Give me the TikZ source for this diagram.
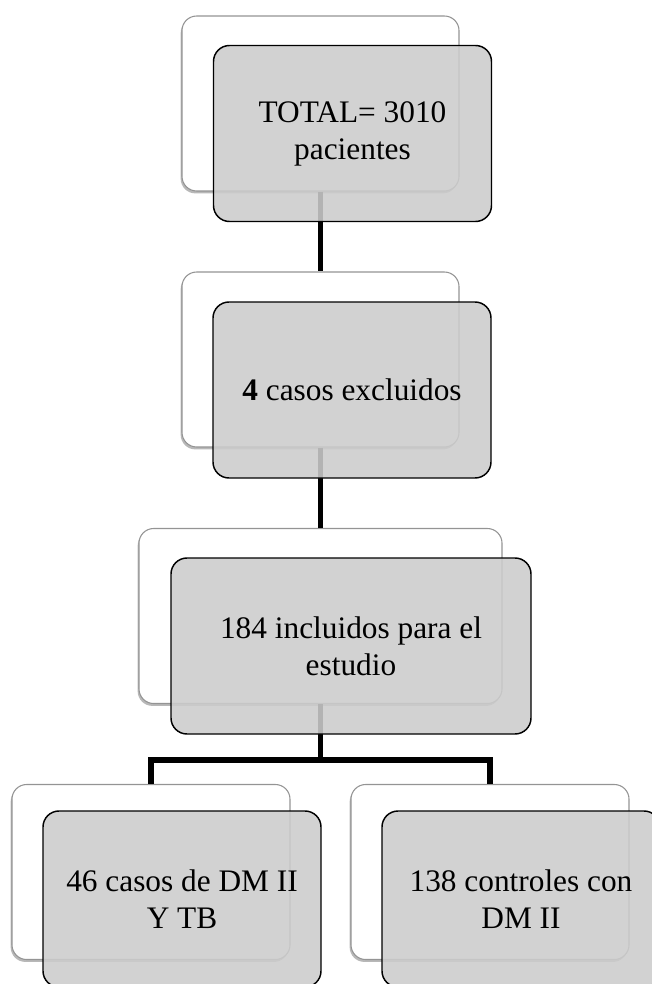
\documentclass[tikz,border=0pt]{standalone}
\usepackage{fontspec}
\setmainfont{Liberation Serif}[BoldFont={Liberation Serif Bold}]
\newfontfamily\diagfont{Liberation Serif}
\usetikzlibrary{shadows}
\definecolor{boxgray}{RGB}{204,204,204}
\begin{document}
\begin{tikzpicture}[x=0.75pt,y=-0.75pt,
  back/.style={draw=black!42, line width=0.8pt, fill=white, rounded corners=11pt,
    inner sep=0pt, minimum height=131.25pt,
    drop shadow={shadow xshift=-1pt, shadow yshift=-1.8pt, opacity=0.28, fill=black}},
  front/.style={draw=black, line width=1.1pt, fill=boxgray, fill opacity=0.88,
    text opacity=1, rounded corners=12pt, inner sep=0pt, minimum height=132pt,
    align=center, font=\diagfont\fontsize{23.5}{27.7}\selectfont},
  link/.style={line width=3.8pt}]
\useasboundingbox (0,0) rectangle (651,984);

% back (white) boxes
\node[back, minimum width=207.75pt] (w1) at (320.5,103.5) {};
\node[back, minimum width=207.75pt] (w2) at (320.5,359.5) {};
\node[back, minimum width=272.25pt] (w3) at (320.5,616) {};
\node[back, minimum width=208.5pt] (w4) at (151,872) {};
\node[back, minimum width=208.5pt] (w5) at (490,872) {};

% connectors
\coordinate (bar) at (320.5,760);
\draw[link] (w1.south) -- (w2.north);
\draw[link] (w2.south) -- (w3.north);
\draw[link] (w3.south) -- (bar);
\draw[link, line join=miter] (w4.north) |- (bar) -| (w5.north);

% front (gray) boxes
\node[front, minimum width=208.5pt] (g1) at (352.5,133.5) {TOTAL= 3010\\pacientes};
\node[front, minimum width=208.5pt] (g2) at (352,390) {\textbf{4} casos excluidos};
\node[front, minimum width=270pt] (g3) at (351,646) {184 incluidos para el\\estudio};
\node[front, minimum width=208.5pt] (g4) at (182,899) {46 casos de DM II\\Y TB};
\node[front, minimum width=208.5pt] (g5) at (521,899) {138 controles con\\DM II};
\end{tikzpicture}
\end{document}
